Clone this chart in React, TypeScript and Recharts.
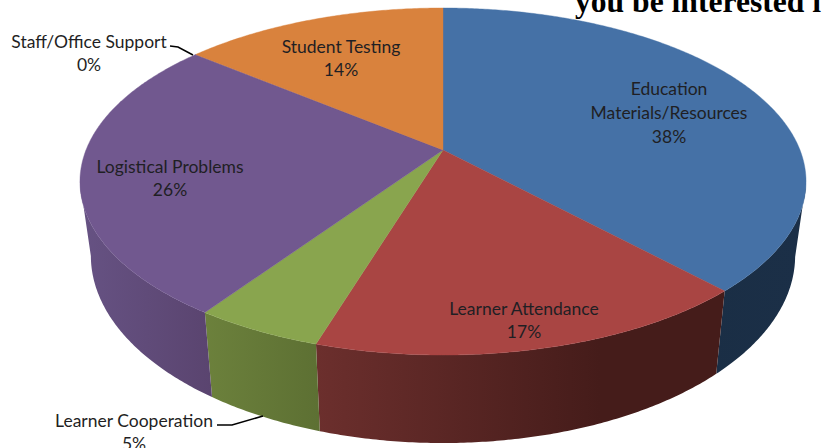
import { Pie, PieChart } from 'recharts'

const CATEGORIES = ['Education Materials/Resources', 'Learner Attendance', 'Learner Cooperation', 'Logistical Problems', 'Staff/Office Support', 'Student Testing']
const VALUES = [38.0, 16.75, 4.85, 26.3, 0.05, 14.05]
const PERCENT_LABELS = ['38%', '17%', '5%', '26%', '0%', '14%']
const TOP_COLORS = ['#4571a6', '#a94543', '#89a54e', '#71588f', '#71588f', '#d9823d']

const LABEL_LINES = [['Education', 'Materials/Resources'], ['Learner Attendance'], ['Learner Cooperation'], ['Logistical Problems'], ['Staff/Office Support'], ['Student Testing']]
const LABEL_X = [669, 524, 134, 170, 89, 341]
const LABEL_Y = [88, 308, 420, 166, 41, 46]
const LEADERS: Record<number, string> = {
  2: 'M217 425 L232 425 L263 416',
  4: 'M170 46 L178 47 L193 55',
}

const CX = 443
const CY = 150
// perspective of the disc, fitted to the picture
const RX = 357
const RY = 167.8
const TILT = 0.1816
const WALL_SCALE_X = 0.97
const WALL_SCALE_Y = 1.08
const WALL_OFFSET = 71.6

const data = CATEGORIES.map((name, i) => ({ name, value: VALUES[i], fill: TOP_COLORS[i] }))

function rimPoints(cx: number, cy: number, start: number, end: number, frontOnly = false) {
  const steps = Math.max(2, Math.ceil(Math.abs(end - start) / 0.5))
  const pts: [number, number][] = []
  for (let i = 0; i <= steps; i++) {
    const a = ((start + ((end - start) * i) / steps) * Math.PI) / 180
    const x = Math.cos(a)
    const y = -Math.sin(a)
    // the wall is only seen from the widest point of the rim forward
    if (frontOnly && y < TILT) continue
    const w = 1 - TILT * y
    pts.push([cx + (RX * x) / w, cy + (RY * y) / w])
  }
  return pts
}

const toPath = (pts: [number, number][]) => pts.map((p, i) => `${i ? 'L' : 'M'}${p[0].toFixed(2)} ${p[1].toFixed(2)}`).join(' ')

function TopSlice(props: any) {
  const { cx, cy, startAngle, endAngle, index } = props
  const d = `M${cx} ${cy} ${toPath(rimPoints(cx, cy, startAngle, endAngle)).replace('M', 'L')} Z`
  return <path d={d} fill={TOP_COLORS[index]} stroke={TOP_COLORS[index]} strokeWidth={0.4} />
}

function WallSlice(props: any) {
  const { cx, cy, startAngle, endAngle, index } = props
  const rim = rimPoints(cx, cy, startAngle, endAngle, true)
  if (rim.length < 2) return <g />
  const lower = rim.map(([x, y]): [number, number] => [
    cx + (x - cx) * WALL_SCALE_X,
    cy + WALL_OFFSET + (y - cy) * WALL_SCALE_Y,
  ])
  const d = `${toPath(rim)} ${toPath(lower.reverse()).replace('M', 'L')} Z`
  return <path d={d} fill={`url(#wall${index})`} />
}

function SliceLabel(props: any) {
  const { index } = props
  const x = LABEL_X[index]
  const y = LABEL_Y[index]
  const lines = [...LABEL_LINES[index], PERCENT_LABELS[index]]
  const step = index === 0 ? 24 : 23
  return (
    <g>
      {LEADERS[index] && <path d={LEADERS[index]} fill="none" stroke="#000" strokeWidth={1.5} />}
      {lines.map((t, i) => (
        <text key={t} x={x} y={y + i * step} textAnchor="middle" dominantBaseline="central" fontFamily="Lato" fontSize={17.5} fill="#1f1f24">
          {t}
        </text>
      ))}
    </g>
  )
}

export default function App() {
  return (
    <div style={{ position: 'absolute', left: 0, top: 0, width: 822, height: 448, overflow: 'hidden', background: '#fff' }}>
      <PieChart width={822} height={448} margin={{ top: 0, right: 0, bottom: 0, left: 0 }}>
        <defs>
          <linearGradient id="wall0" gradientUnits="userSpaceOnUse" x1={700} x2={800} y1={0} y2={0}>
            <stop offset="0" stopColor="#1a2e45" />
            <stop offset="1" stopColor="#1b2f47" />
          </linearGradient>
          <linearGradient id="wall1" gradientUnits="userSpaceOnUse" x1={315} x2={600} y1={0} y2={0}>
            <stop offset="0" stopColor="#6c2f2d" />
            <stop offset="1" stopColor="#451c1a" />
          </linearGradient>
          <linearGradient id="wall2" gradientUnits="userSpaceOnUse" x1={205} x2={318} y1={0} y2={0}>
            <stop offset="0" stopColor="#6c813c" />
            <stop offset="1" stopColor="#5d7033" />
          </linearGradient>
          <linearGradient id="wall3" gradientUnits="userSpaceOnUse" x1={82} x2={212} y1={0} y2={0}>
            <stop offset="0" stopColor="#665283" />
            <stop offset="1" stopColor="#5a446f" />
          </linearGradient>
        </defs>
        <Pie
          data={data}
          dataKey="value"
          nameKey="name"
          cx={CX}
          cy={CY}
          outerRadius={150}
          startAngle={90}
          endAngle={-270}
          stroke="none"
          shape={WallSlice}
          isAnimationActive={false}
        />
        <Pie
          data={data}
          dataKey="value"
          nameKey="name"
          cx={CX}
          cy={CY}
          outerRadius={150}
          startAngle={90}
          endAngle={-270}
          stroke="none"
          shape={TopSlice}
          label={SliceLabel}
          labelLine={false}
          isAnimationActive={false}
        />
        <text x={575} y={12} fontFamily="Liberation Serif" fontWeight="bold" fontSize={31.6} fill="#000">
          you be interested i
        </text>
      </PieChart>
    </div>
  )
}
